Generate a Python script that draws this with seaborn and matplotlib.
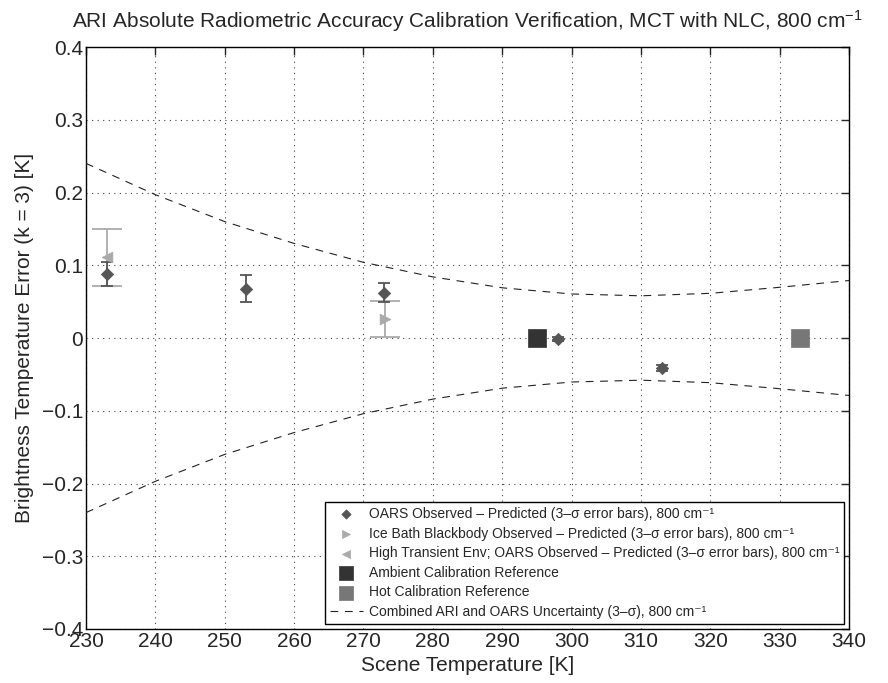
import numpy as np
import pandas as pd
import matplotlib
matplotlib.use("Agg")
import matplotlib.pyplot as plt
import seaborn as sns

# ---- data ----
oars_T = [233, 253, 273, 298, 313]
oars_err = [0.088, 0.068, 0.062, -0.001, -0.041]
oars_sig = [0.016, 0.019, 0.013, 0.003, 0.004]

ice_T = [273.15]
ice_err = [0.026]
ice_sig = [0.0245]

ht_T = [233]
ht_err = [0.111]
ht_sig = [0.039]

amb_T = [295]
amb_err = [0.0]
hot_T = [333]
hot_err = [0.0]

unc_T = [230, 240, 250, 260, 270, 280, 290, 300, 310, 320, 330, 340]
unc_up = [0.24, 0.197, 0.16, 0.13, 0.104, 0.084, 0.069, 0.0605, 0.058, 0.0614, 0.0697, 0.079]
unc_lo = [-v for v in unc_up]

x_ticks = list(range(230, 341, 10))
y_ticks = [-0.4, -0.3, -0.2, -0.1, 0, 0.1, 0.2, 0.3, 0.4]
y_ticklabels = ["\u22120.4", "\u22120.3", "\u22120.2", "\u22120.1", "0", "0.1", "0.2", "0.3", "0.4"]

# ---- style ----
sns.set_style("white")
plt.rcParams['font.family'] = ['Liberation Sans', 'DejaVu Sans']
plt.rcParams['mathtext.fontset'] = 'custom'
plt.rcParams['mathtext.rm'] = 'Liberation Sans'
plt.rcParams['mathtext.it'] = 'Liberation Sans'

fig = plt.figure(figsize=(8.88, 6.83), dpi=100)
ax = fig.add_axes([86/888, 1-629/683, (849-86)/888, (629-47)/683])

c_oars = '#555555'
c_light = '#aaaaaa'
c_amb = '#333333'
c_hot = '#777777'

# error bars
ax.errorbar(ht_T, ht_err, yerr=ht_sig, fmt='none', ecolor=c_light, elinewidth=1.3, capsize=11, capthick=1.3, zorder=2)
ax.errorbar(ice_T, ice_err, yerr=ice_sig, fmt='none', ecolor=c_light, elinewidth=1.3, capsize=11, capthick=1.3, zorder=2)
ax.errorbar(oars_T, oars_err, yerr=oars_sig, fmt='none', ecolor=c_oars, elinewidth=1.3, capsize=4.5, capthick=1.3, zorder=3)

cm = ", 800 cm\u207b\u00b9"
sns.scatterplot(x=oars_T, y=oars_err, marker='D', s=40, color=c_oars, edgecolor=c_oars, linewidth=0.5, ax=ax, zorder=4,
                label="OARS Observed \u2013 Predicted (3\u2013\u03c3 error bars)" + cm)
sns.scatterplot(x=ice_T, y=ice_err, marker='>', s=60, color=c_light, edgecolor=c_light, linewidth=0.5, ax=ax, zorder=4,
                label="Ice Bath Blackbody Observed \u2013 Predicted (3\u2013\u03c3 error bars)" + cm)
sns.scatterplot(x=ht_T, y=ht_err, marker='<', s=60, color=c_light, edgecolor=c_light, linewidth=0.5, ax=ax, zorder=4,
                label="High Transient Env; OARS Observed \u2013 Predicted (3\u2013\u03c3 error bars)" + cm)
sns.scatterplot(x=amb_T, y=amb_err, marker='s', s=170, color=c_amb, edgecolor=c_amb, linewidth=0.5, ax=ax, zorder=4,
                label="Ambient Calibration Reference")
sns.scatterplot(x=hot_T, y=hot_err, marker='s', s=170, color=c_hot, edgecolor=c_hot, linewidth=0.5, ax=ax, zorder=4,
                label="Hot Calibration Reference")
sns.lineplot(x=unc_T, y=unc_up, color='#222222', linestyle=(0, (7, 6)), linewidth=0.8, ax=ax, zorder=3,
             label="Combined ARI and OARS Uncertainty (3\u2013\u03c3)" + cm)
sns.lineplot(x=unc_T, y=unc_lo, color='#222222', linestyle=(0, (7, 6)), linewidth=0.8, ax=ax, zorder=3)

ax.set_xlim(230, 340)
ax.set_ylim(-0.4, 0.4)
ax.set_xticks(x_ticks)
ax.set_yticks(y_ticks)
ax.set_yticklabels(y_ticklabels)
ax.tick_params(direction='in', top=True, right=True, length=6, width=1, labelsize=15, pad=2)
ax.grid(True, linestyle=(0, (1, 4)), color='#444444', linewidth=0.8)
for sp in ax.spines.values():
    sp.set_color('black')
    sp.set_linewidth(1.0)

ax.set_xlabel("Scene Temperature [K]", fontsize=15, labelpad=4)
ax.set_ylabel("Brightness Temperature Error (k = 3) [K]", fontsize=15, labelpad=6)
ax.set_title("ARI Absolute Radiometric Accuracy Calibration Verification, MCT with NLC, 800 cm$^{-1}$",
             fontsize=15, pad=14)

leg = ax.legend(loc='lower right', bbox_to_anchor=(0.9935, 0.009), borderaxespad=0, fontsize=10,
                frameon=True, fancybox=False, framealpha=1, edgecolor='black', handlelength=2.4,
                handletextpad=0.4, labelspacing=0.4, borderpad=0.35, markerscale=0.75)
leg.get_frame().set_linewidth(1.0)

fig.savefig("out.png", dpi=100)
